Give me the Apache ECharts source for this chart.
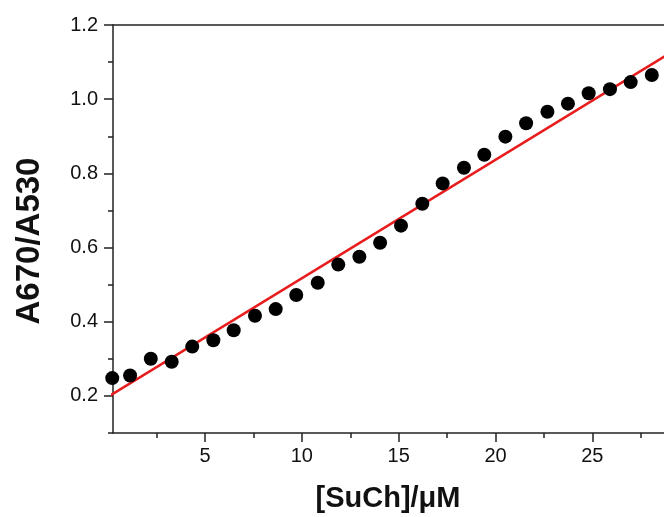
<!DOCTYPE html>
<html>
<head>
<meta charset="utf-8">
<script src="https://cdn.jsdelivr.net/npm/echarts@6/dist/echarts.min.js"></script>
<style>
html,body{margin:0;padding:0;background:#fff;}
#chart{width:664px;height:517px;}
</style>
</head>
<body>
<div id="chart"></div>
<script>
// Data
const concX = [0.21, 1.13, 2.20, 3.28, 4.34, 5.43, 6.48, 7.58, 8.65, 9.71, 10.82, 11.88, 12.97, 14.04, 15.12, 16.22, 17.27, 18.37, 19.42, 20.51, 21.58, 22.68, 23.74, 24.81, 25.91, 26.98, 28.07];
const ratioY = [0.248, 0.255, 0.300, 0.292, 0.333, 0.350, 0.377, 0.416, 0.434, 0.472, 0.505, 0.554, 0.575, 0.613, 0.659, 0.718, 0.773, 0.815, 0.850, 0.899, 0.935, 0.966, 0.988, 1.016, 1.027, 1.046, 1.065];
const fitX = [0, 30];
const fitY = [0.198, 1.156];
const xMajorTicks = [5, 10, 15, 20, 25];
const xMinorTicks = [2.5, 7.5, 12.5, 17.5, 22.5, 27.5];
const yMajorTicks = [0.2, 0.4, 0.6, 0.8, 1.0, 1.2];
const yMinorTicks = [0.1, 0.3, 0.5, 0.7, 0.9, 1.1];
const xTitle = '[SuCh]/μM';
const yTitle = 'A670/A530';

const FONT = 'Arial, "Liberation Sans", sans-serif';
const AX = '#222';
const X_MIN = 0.248, X_MAX = 28.7, Y_MIN = 0.1, Y_MAX = 1.2;

const chart = echarts.init(document.getElementById('chart'), null, {renderer: 'canvas'});
const scatterData = concX.map((x, i) => [x, ratioY[i]]);
const fitData = fitX.map((x, i) => [x, fitY[i]]);

const baseX = {type: 'value', min: X_MIN, max: X_MAX, splitLine: {show: false}};
const baseY = {type: 'value', min: Y_MIN, max: Y_MAX, splitLine: {show: false}};

chart.setOption({
  animation: false,
  backgroundColor: '#fff',
  grid: {left: 113, right: 0, top: 25, bottom: 84, containLabel: false},
  xAxis: [
    Object.assign({}, baseX, {
      position: 'bottom',
      axisLine: {show: true, lineStyle: {color: AX, width: 1.5}},
      axisTick: {show: true, length: 9, customValues: xMajorTicks, lineStyle: {color: AX, width: 1.5}},
      axisLabel: {show: true, customValues: xMajorTicks, margin: 13, fontSize: 20, color: '#111', fontFamily: FONT,
        formatter: v => String(Math.round(v))}
    }),
    Object.assign({}, baseX, {
      position: 'bottom',
      axisLine: {show: false},
      axisTick: {show: true, length: 5, customValues: xMinorTicks, lineStyle: {color: AX, width: 1.5}},
      axisLabel: {show: false}
    }),
    Object.assign({}, baseX, {
      position: 'top',
      axisLine: {show: true, lineStyle: {color: AX, width: 1.5}},
      axisTick: {show: false},
      axisLabel: {show: false}
    })
  ],
  yAxis: [
    Object.assign({}, baseY, {
      position: 'left',
      axisLine: {show: true, lineStyle: {color: AX, width: 1.5}},
      axisTick: {show: true, length: 9, customValues: yMajorTicks, lineStyle: {color: AX, width: 1.5}},
      axisLabel: {show: true, customValues: yMajorTicks, margin: 15, fontSize: 20, color: '#111', fontFamily: FONT,
        formatter: v => v.toFixed(1)}
    }),
    Object.assign({}, baseY, {
      position: 'left',
      axisLine: {show: false},
      axisTick: {show: true, length: 5, customValues: yMinorTicks, lineStyle: {color: AX, width: 1.5}},
      axisLabel: {show: false}
    })
  ],
  graphic: [
    {type: 'text', x: 388, y: 499, style: {text: xTitle, font: 'bold 29px ' + FONT, fill: '#111', textAlign: 'center', textVerticalAlign: 'middle'}},
    {type: 'text', x: 30, y: 241, rotation: Math.PI / 2, style: {text: yTitle, font: 'bold 33px ' + FONT, fill: '#111', textAlign: 'center', textVerticalAlign: 'middle'}}
  ],
  series: [
    {
      type: 'line', xAxisIndex: 0, yAxisIndex: 0, data: fitData, showSymbol: false, symbol: 'none',
      lineStyle: {color: '#e81c1c', width: 2.5}, clip: true, z: 2
    },
    {
      type: 'scatter', xAxisIndex: 0, yAxisIndex: 0, data: scatterData, symbol: 'circle', symbolSize: 14,
      itemStyle: {color: '#000', opacity: 1}, clip: false, z: 3
    }
  ]
});
</script>
</body>
</html>
